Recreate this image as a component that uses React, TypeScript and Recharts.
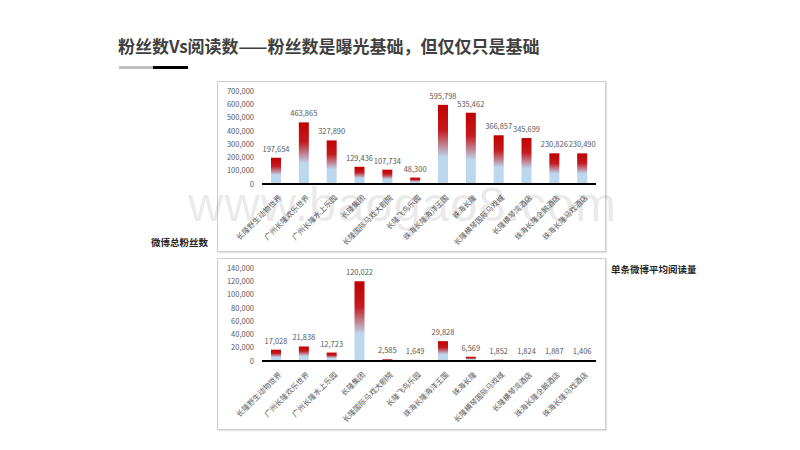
import React from 'react';
import { BarChart, Bar, XAxis, YAxis, LabelList } from 'recharts';

const venues = [
  '长隆野生动物世界',
  '广州长隆欢乐世界',
  '广州长隆水上乐园',
  '长隆集团',
  '长隆国际马戏大剧院',
  '长隆飞鸟乐园',
  '珠海长隆海洋王国',
  '珠海长隆',
  '长隆横琴国际马戏城',
  '长隆横琴湾酒店',
  '珠海长隆企鹅酒店',
  '珠海长隆马戏酒店',
];

const fans = [197654, 463865, 327890, 129436, 107734, 48300, 595798, 535462, 366857, 345699, 230826, 230490];
const reads = [17028, 21838, 12723, 120022, 2585, 1649, 29828, 6569, 1852, 1824, 1887, 1406];

const fanTicks = [0, 100000, 200000, 300000, 400000, 500000, 600000, 700000];
const readTicks = [0, 20000, 40000, 60000, 80000, 100000, 120000, 140000];

const fanData = venues.map((name, i) => ({ name, value: fans[i] }));
const readData = venues.map((name, i) => ({ name, value: reads[i] }));

const font = '"Microsoft YaHei", "Noto Sans CJK SC", sans-serif';
const fmt = (v: any) => Number(v).toLocaleString('en-US');

function SlantTick(props: any) {
  const { x, y, payload } = props;
  return (
    <g transform={`translate(${x + 4},${y + 4})`}>
      <text
        textAnchor="end"
        transform="rotate(-45)"
        fontSize={7.5}
        fill="#595959"
        fontFamily={font}
        dy={3}
      >
        {payload.value}
      </text>
    </g>
  );
}

function Panel({ data, ticks, id, top, height }: any) {
  return (
    <div
      style={{
        position: 'absolute',
        left: 217,
        top,
        width: 387,
        height,
        border: '1px solid #cfcfcf',
        boxShadow: '1px 1px 1px #e2e2e2',
        background: '#fff',
      }}
    >
      <BarChart
        width={387}
        height={height}
        data={data}
        margin={{ top: 9, right: 9, left: 0, bottom: 0 }}
        barSize={10}
      >
        <defs>
          <linearGradient id={id} x1="0" y1="0" x2="0" y2="1">
            <stop offset="0%" stopColor="#c00000" />
            <stop offset="32%" stopColor="#c41a1f" />
            <stop offset="66%" stopColor="#bdd7ee" />
            <stop offset="100%" stopColor="#bdd7ee" />
          </linearGradient>
        </defs>
        <XAxis
          dataKey="name"
          interval={0}
          tickLine={false}
          axisLine={{ stroke: '#000', strokeWidth: 2 }}
          tick={<SlantTick />}
          height={height - 102}
        />
        <YAxis
          ticks={ticks}
          interval={0}
          domain={[0, ticks[ticks.length - 1]]}
          tickFormatter={fmt}
          axisLine={false}
          tickLine={false}
          width={44}
          tick={{ fontSize: 7.5, fill: '#595959', fontFamily: font }}
        />
        <Bar dataKey="value" fill={`url(#${id})`} isAnimationActive={false}>
          <LabelList
            dataKey="value"
            position="top"
            formatter={fmt}
            offset={6}
            style={{ fontSize: 7.5, fill: '#595959', fontFamily: font }}
          />
        </Bar>
      </BarChart>
    </div>
  );
}

export default function App() {
  return (
    <div
      style={{
        position: 'absolute',
        left: 0,
        top: 0,
        width: 800,
        height: 450,
        background: '#fff',
        fontFamily: font,
        overflow: 'hidden',
      }}
    >
      <div
        style={{
          position: 'absolute',
          left: 118,
          top: 33,
          fontSize: 17,
          fontWeight: 'bold',
          color: '#404040',
          whiteSpace: 'nowrap',
        }}
      >
        粉丝数Vs阅读数——粉丝数是曝光基础，但仅仅只是基础
      </div>
      <div style={{ position: 'absolute', left: 119, top: 66, width: 34, height: 3, background: '#bfbfbf' }} />
      <div style={{ position: 'absolute', left: 153, top: 66, width: 35, height: 3, background: '#000' }} />

      <Panel data={fanData} ticks={fanTicks} id="gradFans" top={81} height={169} />
      <Panel data={readData} ticks={readTicks} id="gradReads" top={258} height={170} />

      <div
        style={{
          position: 'absolute',
          left: 188,
          top: 176,
          fontSize: 49,
          lineHeight: '56px',
          color: '#000',
          opacity: 0.08,
          fontFamily: 'Arial, "Liberation Sans", sans-serif',
          whiteSpace: 'nowrap',
          pointerEvents: 'none',
          letterSpacing: 1,
        }}
      >
        www.baogao8.com
      </div>

      <div
        style={{
          position: 'absolute',
          left: 151,
          top: 235,
          fontSize: 9.5,
          fontWeight: 'bold',
          color: '#262626',
          whiteSpace: 'nowrap',
        }}
      >
        微博总粉丝数
      </div>
      <div
        style={{
          position: 'absolute',
          left: 611,
          top: 262,
          fontSize: 9.5,
          fontWeight: 'bold',
          color: '#262626',
          whiteSpace: 'nowrap',
        }}
      >
        单条微博平均阅读量
      </div>
    </div>
  );
}
